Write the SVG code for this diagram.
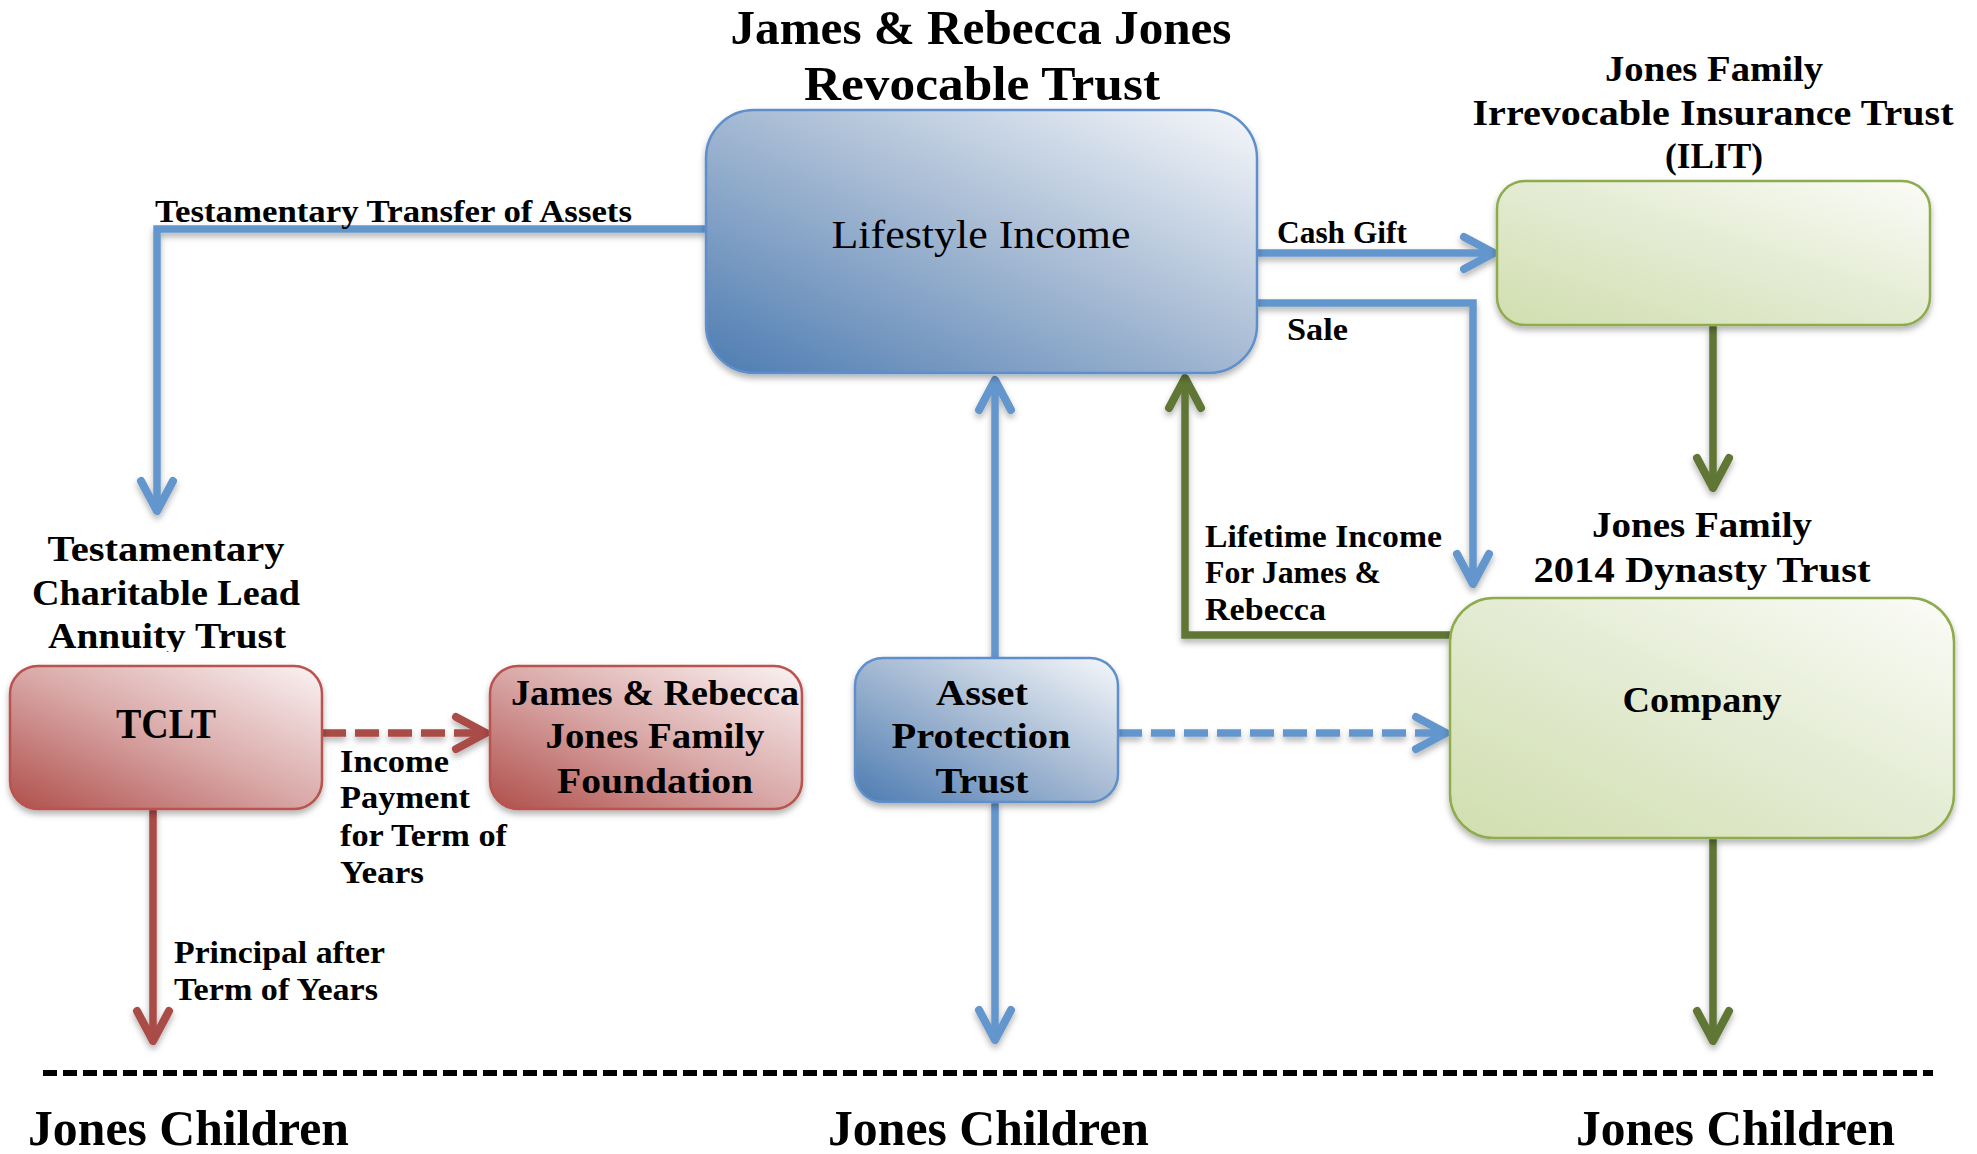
<svg xmlns="http://www.w3.org/2000/svg" width="1977" height="1154" viewBox="0 0 1977 1154">
<style>
text{font-family:"Liberation Serif","Times New Roman",serif;font-weight:bold;fill:#000}
.reg{font-weight:normal}
.c{text-anchor:middle}
.lbl{font-size:31px}
.nt{font-size:36px}
.box{stroke-width:2.5}
.blue{fill:url(#gB);stroke:#5f8fcb}
.red{fill:url(#gR);stroke:#b9524e}
.green{fill:url(#gG);stroke:#8eab4e}
.cn{fill:none;stroke-width:7.5;stroke-linejoin:miter}
.cb{stroke:#6396cd}
.cr{stroke:#a94b47}
.cg{stroke:#607634}
.mk{fill:none;stroke-width:8;stroke-linecap:round;stroke-linejoin:round}
</style>
<defs>
<linearGradient id="gB" x1="0" y1="1" x2="1" y2="0">
<stop offset="0" stop-color="#4d7cb2"/><stop offset="0.5" stop-color="#a3b8d2"/><stop offset="1" stop-color="#f6f8fb"/>
</linearGradient>
<linearGradient id="gR" x1="0" y1="1" x2="1" y2="0">
<stop offset="0" stop-color="#b04f4b"/><stop offset="0.5" stop-color="#d9a9a8"/><stop offset="1" stop-color="#fbf3f3"/>
</linearGradient>
<linearGradient id="gG" x1="0" y1="1" x2="1" y2="0">
<stop offset="0" stop-color="#d1deae"/><stop offset="0.5" stop-color="#e3ebd2"/><stop offset="1" stop-color="#fbfcf7"/>
</linearGradient>
<filter id="sh" x="-10%" y="-10%" width="120%" height="130%">
<feDropShadow dx="0" dy="4" stdDeviation="3" flood-color="#000" flood-opacity="0.3"/>
</filter>
<clipPath id="clatClip"><rect x="0" y="500" width="400" height="152"/></clipPath>
<marker id="aB" markerUnits="userSpaceOnUse" orient="auto" overflow="visible" markerWidth="1" markerHeight="1" refX="0" refY="0">
<path class="mk" d="M-30,-16 L0,0 L-30,16" stroke="#6396cd"/>
</marker>
<marker id="aR" markerUnits="userSpaceOnUse" orient="auto" overflow="visible" markerWidth="1" markerHeight="1" refX="0" refY="0">
<path class="mk" d="M-30,-16 L0,0 L-30,16" stroke="#a94b47"/>
</marker>
<marker id="aG" markerUnits="userSpaceOnUse" orient="auto" overflow="visible" markerWidth="1" markerHeight="1" refX="0" refY="0">
<path class="mk" d="M-30,-16 L0,0 L-30,16" stroke="#607634"/>
</marker>
</defs>
<rect width="1977" height="1154" fill="#fff"/>

<!-- Connectors -->
<g id="connectors" filter="url(#sh)">
<path id="c-testamentary" class="cn cb" d="M706,229 H157 V511" marker-end="url(#aB)"/>
<path id="c-cashgift" class="cn cb" d="M1257,253 H1494" marker-end="url(#aB)"/>
<path id="c-sale" class="cn cb" d="M1257,303 H1473 V584" marker-end="url(#aB)"/>
<path id="c-ilit-dynasty" class="cn cg" d="M1713,325 V488" marker-end="url(#aG)"/>
<path id="c-lifetime" class="cn cg" d="M1450,635 H1185 V378" marker-end="url(#aG)"/>
<path id="c-apt-up" class="cn cb" d="M995,658 V380" marker-end="url(#aB)"/>
<path id="c-apt-down" class="cn cb" d="M995,802 V1040" marker-end="url(#aB)"/>
<path id="c-apt-company" class="cn cb" d="M1118,733 H1446" stroke-dasharray="24 9" marker-end="url(#aB)"/>
<path id="c-tclt-foundation" class="cn cr" d="M322,733 H486" stroke-dasharray="24 9" marker-end="url(#aR)"/>
<path id="c-tclt-down" class="cn cr" d="M153,809 V1041" marker-end="url(#aR)"/>
<path id="c-company-down" class="cn cg" d="M1713,838 V1041" marker-end="url(#aG)"/>
</g>

<!-- Connector labels -->
<g id="connector-labels">
<text class="lbl" x="155" y="222" textLength="477" lengthAdjust="spacingAndGlyphs">Testamentary Transfer of Assets</text>
<text class="lbl" x="1277" y="243" textLength="130" lengthAdjust="spacingAndGlyphs">Cash Gift</text>
<text class="lbl" x="1287" y="340" textLength="61" lengthAdjust="spacingAndGlyphs">Sale</text>
<text class="lbl" x="1205" y="547" textLength="237" lengthAdjust="spacingAndGlyphs">Lifetime Income</text>
<text class="lbl" x="1205" y="583" textLength="176" lengthAdjust="spacingAndGlyphs">For James &amp;</text>
<text class="lbl" x="1205" y="620" textLength="121" lengthAdjust="spacingAndGlyphs">Rebecca</text>
<text class="lbl" x="340" y="772" textLength="109" lengthAdjust="spacingAndGlyphs">Income</text>
<text class="lbl" x="340" y="808" textLength="130" lengthAdjust="spacingAndGlyphs">Payment</text>
<text class="lbl" x="340" y="846" textLength="167" lengthAdjust="spacingAndGlyphs">for Term of</text>
<text class="lbl" x="340" y="883" textLength="84" lengthAdjust="spacingAndGlyphs">Years</text>
<text class="lbl" x="174" y="963" textLength="211" lengthAdjust="spacingAndGlyphs">Principal after</text>
<text class="lbl" x="174" y="1000" textLength="204" lengthAdjust="spacingAndGlyphs">Term of Years</text>
</g>

<!-- Revocable Trust -->
<g id="node-revocable">
<text class="c" x="981" y="44" font-size="49" textLength="501" lengthAdjust="spacingAndGlyphs">James &amp; Rebecca Jones</text>
<text class="c" x="982" y="100" font-size="49" textLength="356" lengthAdjust="spacingAndGlyphs">Revocable Trust</text>
<rect class="box blue" x="706" y="110" width="551" height="263" rx="48" filter="url(#sh)"/>
<text class="c reg" x="981" y="248" font-size="40" textLength="299" lengthAdjust="spacingAndGlyphs">Lifestyle Income</text>
</g>

<!-- ILIT -->
<g id="node-ilit">
<text class="c nt" x="1714" y="81" textLength="218" lengthAdjust="spacingAndGlyphs">Jones Family</text>
<text class="c nt" x="1713" y="125" textLength="481" lengthAdjust="spacingAndGlyphs">Irrevocable Insurance Trust</text>
<text class="c nt" x="1714" y="168" textLength="98" lengthAdjust="spacingAndGlyphs">(ILIT)</text>
<rect class="box green" x="1497" y="181" width="433" height="144" rx="28" filter="url(#sh)"/>
</g>

<!-- Dynasty Trust / Company -->
<g id="node-dynasty">
<text class="c nt" x="1702" y="537" textLength="220" lengthAdjust="spacingAndGlyphs">Jones Family</text>
<text class="c nt" x="1702" y="582" textLength="337" lengthAdjust="spacingAndGlyphs">2014 Dynasty Trust</text>
<rect class="box green" x="1450" y="598" width="504" height="240" rx="44" filter="url(#sh)"/>
<text class="c nt" x="1702" y="712" textLength="159" lengthAdjust="spacingAndGlyphs">Company</text>
</g>

<!-- Asset Protection Trust -->
<g id="node-apt">
<rect class="box blue" x="855" y="658" width="263" height="144" rx="28" filter="url(#sh)"/>
<text class="c" x="982" y="705" font-size="35" textLength="92" lengthAdjust="spacingAndGlyphs">Asset</text>
<text class="c" x="981" y="748" font-size="35" textLength="179" lengthAdjust="spacingAndGlyphs">Protection</text>
<text class="c" x="982" y="793" font-size="35" textLength="93" lengthAdjust="spacingAndGlyphs">Trust</text>
</g>

<!-- TCLT -->
<g id="node-tclt">
<g clip-path="url(#clatClip)">
<text class="c nt" x="166" y="561" textLength="237" lengthAdjust="spacingAndGlyphs">Testamentary</text>
<text class="c nt" x="166" y="605" textLength="268" lengthAdjust="spacingAndGlyphs">Charitable Lead</text>
<text class="c nt" x="167" y="648" textLength="238" lengthAdjust="spacingAndGlyphs">Annuity Trust</text>
</g>
<rect class="box red" x="10" y="666" width="312" height="143" rx="28" filter="url(#sh)"/>
<text class="c" x="166" y="738" font-size="42" textLength="100" lengthAdjust="spacingAndGlyphs">TCLT</text>
</g>

<!-- Foundation -->
<g id="node-foundation">
<rect class="box red" x="490" y="666" width="312" height="143" rx="28" filter="url(#sh)"/>
<text class="c nt" x="655" y="705" textLength="288" lengthAdjust="spacingAndGlyphs">James &amp; Rebecca</text>
<text class="c nt" x="655" y="748" textLength="219" lengthAdjust="spacingAndGlyphs">Jones Family</text>
<text class="c nt" x="655" y="793" textLength="196" lengthAdjust="spacingAndGlyphs">Foundation</text>
</g>

<!-- Separator and beneficiaries -->
<line id="separator" x1="43" y1="1073" x2="1933" y2="1073" stroke="#000" stroke-width="6" stroke-dasharray="14 6"/>
<g id="node-children-1"><text x="28" y="1145" font-size="50" textLength="321" lengthAdjust="spacingAndGlyphs">Jones Children</text></g>
<g id="node-children-2"><text x="828" y="1145" font-size="50" textLength="321" lengthAdjust="spacingAndGlyphs">Jones Children</text></g>
<g id="node-children-3"><text x="1576" y="1145" font-size="50" textLength="319" lengthAdjust="spacingAndGlyphs">Jones Children</text></g>
</svg>
